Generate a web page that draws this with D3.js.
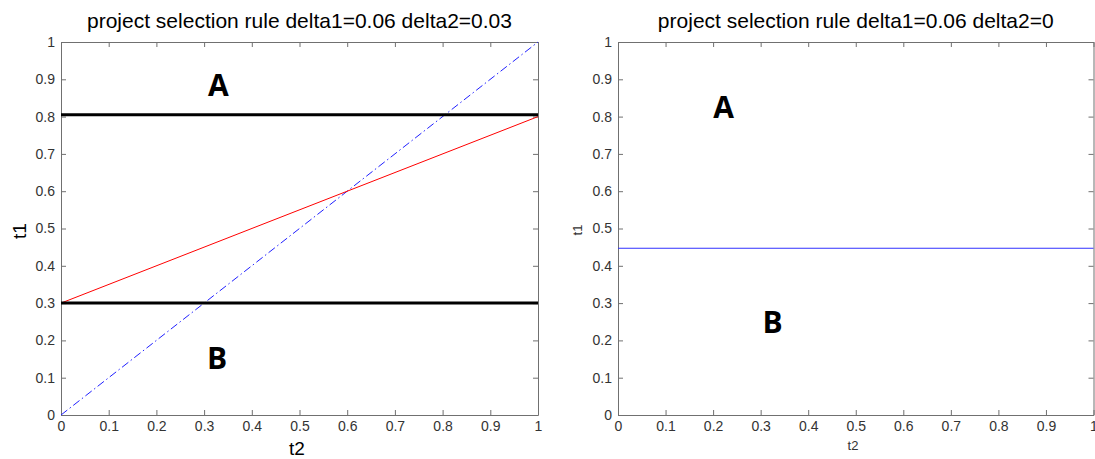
<!DOCTYPE html>
<html><head><meta charset="utf-8">
<script src="https://cdn.jsdelivr.net/npm/d3@7"></script>
<style>body{margin:0;background:#fff}svg{display:block}</style>
</head><body>
<svg id="c" width="1095" height="459"></svg>
<script>
const ticks = [0,0.1,0.2,0.3,0.4,0.5,0.6,0.7,0.8,0.9,1];
const tickLabels = ["0","0.1","0.2","0.3","0.4","0.5","0.6","0.7","0.8","0.9","1"];
// left panel
const leftTitle = "project selection rule delta1=0.06 delta2=0.03";
const blackLevels = [0.805, 0.3];
const redLine = [[0,0.3],[1,0.8]];
const blueDiag = [[0,0],[1,1]];
const leftLabels = [{t:"A",x:0.33,y:0.885},{t:"B",x:0.327,y:0.153}];
// right panel
const rightTitle = "project selection rule delta1=0.06 delta2=0";
const rightLine = [[0,0.447],[1,0.447]];
const rightLabels = [{t:"A",x:0.222,y:0.826},{t:"B",x:0.325,y:0.25}];

const svg = d3.select("#c");
const FONT = "Liberation Sans, Arial, sans-serif";
function panel(x0,x1,y0,y1,title,axisColor){
  const g = svg.append("g");
  const x = d3.scaleLinear().domain([0,1]).range([x0,x1]);
  const y = d3.scaleLinear().domain([0,1]).range([y1,y0]);
  const mk = (axis)=> axis.tickValues(ticks).tickFormat((d,i)=>tickLabels[i]).tickSizeInner(-5).tickSizeOuter(0).tickPadding(6);
  const style = sel=>{sel.select(".domain").attr("stroke",axisColor);sel.selectAll(".tick line").attr("stroke",axisColor);
    sel.selectAll("text").attr("fill","#333").style("font-family",FONT).style("font-size","14px");};
  g.append("g").attr("transform",`translate(0,${y1})`).call(mk(d3.axisBottom(x))).call(style);
  g.append("g").attr("transform",`translate(${x0},0)`).call(mk(d3.axisLeft(y))).call(style);
  const tt = g.append("g").attr("transform",`translate(0,${y0})`).call(mk(d3.axisTop(x))).call(style);
  tt.selectAll("text").remove();
  const rr = g.append("g").attr("transform",`translate(${x1},0)`).call(mk(d3.axisRight(y))).call(style);
  rr.selectAll("text").remove();
  g.append("text").attr("x",(x0+x1)/2).attr("y",y0-14).attr("text-anchor","middle")
    .style("font-family",FONT).style("font-size","21px").attr("fill","#000").text(title);
  return {g,x,y};
}
const L = panel(61,538,42,415,leftTitle,"#707070");
const R = panel(618,1093.5,42,415,rightTitle,"#707070");

const line = (p)=>d3.line().x(d=>p.x(d[0])).y(d=>p.y(d[1]));
L.g.append("path").datum(blueDiag).attr("d",line(L)).attr("fill","none").attr("stroke","#2020ff").attr("stroke-width",1).attr("stroke-dasharray","8,3,1.5,3");
L.g.append("path").datum(redLine).attr("d",line(L)).attr("fill","none").attr("stroke","#ff0000").attr("stroke-width",1);
blackLevels.forEach(v=>{
  L.g.append("path").datum([[0,v],[1,v]]).attr("d",line(L)).attr("fill","none").attr("stroke","#000").attr("stroke-width",3);
});
R.g.append("path").datum(rightLine).attr("d",line(R)).attr("fill","none").attr("stroke","#3030ff").attr("stroke-width",1.2);

function letters(p,arr){
  p.g.selectAll(null).data(arr).join("text").attr("x",d=>p.x(d.x)).attr("y",d=>p.y(d.y)).attr("text-anchor","middle").attr("dominant-baseline","central")
   .style("font-family","Open Sans, sans-serif").style("font-weight","bold").style("font-size","30px").attr("fill","#000").text(d=>d.t);
}
letters(L,leftLabels); letters(R,rightLabels);

// axis labels
svg.append("text").attr("x",297).attr("y",455).attr("text-anchor","middle").style("font-family",FONT).style("font-size","19px").text("t2");
svg.append("text").attr("transform","translate(26,231) rotate(-90)").attr("text-anchor","middle").style("font-family",FONT).style("font-size","19px").text("t1");
svg.append("text").attr("x",853).attr("y",450).attr("text-anchor","middle").style("font-family",FONT).style("font-size","13px").attr("fill","#333").text("t2");
svg.append("text").attr("transform","translate(582,230) rotate(-90)").attr("text-anchor","middle").style("font-family",FONT).style("font-size","13px").attr("fill","#333").text("t1");
</script>
</body></html>
